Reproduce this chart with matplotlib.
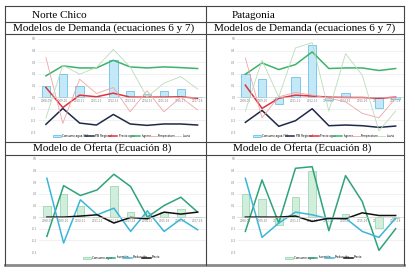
import matplotlib
matplotlib.use("Agg")
import matplotlib.pyplot as plt
from matplotlib.lines import Line2D
import numpy as np

W, H = 415, 272

categories = ["2008-09", "2009-10", "2010-11", "2011-12", "2012-13",
              "2013-14", "2014-15", "2015-16", "2016-17", "2017-18"]
y_ticks = [-0.3, -0.2, -0.1, 0.0, 0.1, 0.2, 0.3, 0.4, 0.5]

# --- Norte Chico, demanda ---
nc_dem_bars = [0.100, 0.203, 0.094, 0.0, 0.317, 0.049, 0.031, 0.049, 0.069, 0.0]
nc_dem_navy = [-0.234, -0.097, -0.223, -0.240, -0.149, -0.231, -0.243, -0.231, -0.231, -0.240]
nc_dem_red = [0.083, -0.090, 0.017, 0.003, 0.034, 0.0, 0.0, 0.0, 0.003, -0.010]
nc_dem_green = [0.183, 0.269, 0.251, 0.251, 0.317, 0.260, 0.251, 0.260, 0.254, 0.246]
nc_dem_pink = [0.340, -0.226, 0.154, 0.031, 0.083, -0.126, 0.054, -0.126, 0.0, -0.110]
nc_dem_lgreen = [-0.180, 0.274, 0.197, 0.255, 0.410, 0.260, 0.0, 0.120, 0.177, 0.070]

# --- Patagonia, demanda ---
pa_dem_bars = [0.197, 0.154, -0.063, 0.169, 0.446, -0.025, 0.034, 0.0, -0.097, -0.020]
pa_dem_navy = [-0.217, -0.114, -0.251, -0.203, -0.100, -0.246, -0.240, -0.246, -0.260, -0.249]
pa_dem_red = [0.103, -0.097, -0.010, 0.017, 0.009, 0.0, -0.003, -0.003, -0.010, 0.0]
pa_dem_green = [0.197, 0.294, 0.237, 0.280, 0.389, 0.246, 0.251, 0.251, 0.229, 0.246]
pa_dem_pink = [0.337, -0.177, 0.003, 0.040, 0.017, -0.010, -0.040, -0.140, -0.177, -0.010]
pa_dem_lgreen = [-0.120, 0.317, 0.0, 0.423, 0.469, -0.120, 0.374, 0.189, -0.290, -0.120]

# --- Norte Chico, oferta ---
nc_of_bars = [0.100, 0.200, 0.100, 0.0, 0.271, 0.043, 0.034, 0.043, 0.071, 0.0]
nc_of_green = [-0.166, 0.271, 0.186, 0.234, 0.369, 0.263, 0.0, 0.100, 0.171, 0.043]
nc_of_blue = [0.334, -0.223, 0.149, 0.020, 0.077, -0.123, 0.054, -0.123, -0.017, -0.109]
nc_of_black = [0.0, 0.0, 0.009, 0.020, -0.051, -0.003, -0.014, 0.043, 0.026, 0.043]

# --- Patagonia, oferta ---
pa_of_bars = [0.200, 0.157, -0.066, 0.171, 0.400, -0.020, 0.026, 0.0, -0.094, -0.010]
pa_of_green = [-0.123, 0.320, -0.051, 0.420, 0.434, -0.117, 0.357, 0.134, -0.286, -0.100]
pa_of_blue = [0.334, -0.174, -0.051, 0.043, 0.020, -0.014, -0.009, -0.123, -0.174, -0.009]
pa_of_black = [0.0, 0.0, 0.0, 0.009, -0.037, -0.009, -0.014, 0.037, 0.014, 0.014]

dem_labels = ["Consumo agua (%)", "PIB Regional", "Precio agua", "Ingreso", "Temperatura", "Lluvia"]
of_labels = ["Consumo agua", "Inversión", "Producción", "Precio"]

fig = plt.figure(figsize=(W / 100, H / 100), dpi=100)
fig.patch.set_facecolor("white")


def fx(x):
    return x / W


def fy(y):
    return 1 - y / H


def hline(y, x0, x1, color="#444444", lw=0.8):
    fig.add_artist(Line2D([fx(x0), fx(x1)], [fy(y), fy(y)], color=color, lw=lw))


def vline(x, y0, y1, color="#444444", lw=0.8):
    fig.add_artist(Line2D([fx(x), fx(x)], [fy(y0), fy(y1)], color=color, lw=lw))


# table grid
for y in [6, 22, 34, 142, 155]:
    hline(y, 5, 404)
hline(264.5, 5, 404, color="#8a8a8a", lw=2.0)
for xx in [5, 206, 404]:
    vline(xx, 6, 265)

serif = "Liberation Serif"
fig.text(fx(32), fy(15), "Norte Chico", family=serif, fontsize=8, va="center", ha="left")
fig.text(fx(232), fy(15), "Patagonia", family=serif, fontsize=8, va="center", ha="left")
fig.text(fx(104), fy(28), "Modelos de Demanda (ecuaciones 6 y 7)", family=serif, fontsize=8, va="center", ha="center")
fig.text(fx(305), fy(28), "Modelos de Demanda (ecuaciones 6 y 7)", family=serif, fontsize=8, va="center", ha="center")
fig.text(fx(102), fy(148.5), "Modelo de Oferta (Ecuación 8)", family=serif, fontsize=8, va="center", ha="center")
fig.text(fx(302), fy(148.5), "Modelo de Oferta (Ecuación 8)", family=serif, fontsize=8, va="center", ha="center")


def make_ax(left, right, top, bottom):
    ax = fig.add_axes([fx(left), fy(bottom), fx(right) - fx(left), fy(top) - fy(bottom)])
    ax.set_xlim(-0.5, len(categories) - 0.5)
    ax.set_ylim(-0.3, 0.5)
    ax.set_yticks(y_ticks)
    ax.set_yticklabels([f"{v:.1f}" for v in y_ticks])
    ax.grid(axis="y", color="#e6e6e6", lw=0.4)
    ax.set_axisbelow(True)
    for s in ["top", "right", "left"]:
        ax.spines[s].set_visible(False)
    ax.spines["bottom"].set_position(("data", 0))
    ax.spines["bottom"].set_color("#d0d0d0")
    ax.spines["bottom"].set_linewidth(0.4)
    ax.set_xticks(range(len(categories)))
    ax.set_xticklabels(categories)
    ax.tick_params(length=0, labelsize=2.0, colors="#808080", pad=1)
    ax.patch.set_alpha(0)
    return ax


x = np.arange(len(categories))


def demand(ax, bars, navy, red, green, pink, lgreen, leg_x, leg_w):
    h = [ax.bar(x, bars, width=0.5, color="#c3e8f8", edgecolor="#55b9e3", lw=0.5)]
    h += ax.plot(x, navy, color="#1f2a48", lw=1.1)
    h += ax.plot(x, red, color="#e2323c", lw=1.1)
    h += ax.plot(x, green, color="#3bb36a", lw=1.1)
    h += ax.plot(x, pink, color="#f2a3a3", lw=0.6)
    h += ax.plot(x, lgreen, color="#b9dcb8", lw=0.6)
    fig.legend(h, dem_labels, loc="center",
               bbox_to_anchor=(fx(leg_x), fy(136), fx(leg_w), 0.0),
               ncol=6, fontsize=2.0, frameon=False, handlelength=3.0,
               columnspacing=1.5, handletextpad=0.5, mode="expand")


def supply(ax, bars, green, blue, black, leg_x, leg_w):
    h = [ax.bar(x, bars, width=0.45, color="#d0eedb", edgecolor="#8ad4a4", lw=0.5)]
    h += ax.plot(x, green, color="#2fa37a", lw=1.1)
    h += ax.plot(x, blue, color="#3cb5da", lw=1.1)
    h += ax.plot(x, black, color="#111111", lw=1.1)
    fig.legend(h, of_labels, loc="center",
               bbox_to_anchor=(fx(leg_x), fy(257.5), fx(leg_w), 0.0),
               ncol=4, fontsize=2.0, frameon=False, handlelength=3.0,
               columnspacing=1.5, handletextpad=0.5, mode="expand")


ax1 = make_ax(37.5, 206, 39, 132)
demand(ax1, nc_dem_bars, nc_dem_navy, nc_dem_red, nc_dem_green, nc_dem_pink, nc_dem_lgreen, 50, 143)
ax2 = make_ax(237, 404, 39, 132)
demand(ax2, pa_dem_bars, pa_dem_navy, pa_dem_red, pa_dem_green, pa_dem_pink, pa_dem_lgreen, 250, 147)
ax3 = make_ax(38.5, 206, 159, 252)
supply(ax3, nc_of_bars, nc_of_green, nc_of_blue, nc_of_black, 80, 83)
ax4 = make_ax(237, 404, 159, 252)
supply(ax4, pa_of_bars, pa_of_green, pa_of_blue, pa_of_black, 282, 83)

fig.savefig("out.png", dpi=100, facecolor="white")
